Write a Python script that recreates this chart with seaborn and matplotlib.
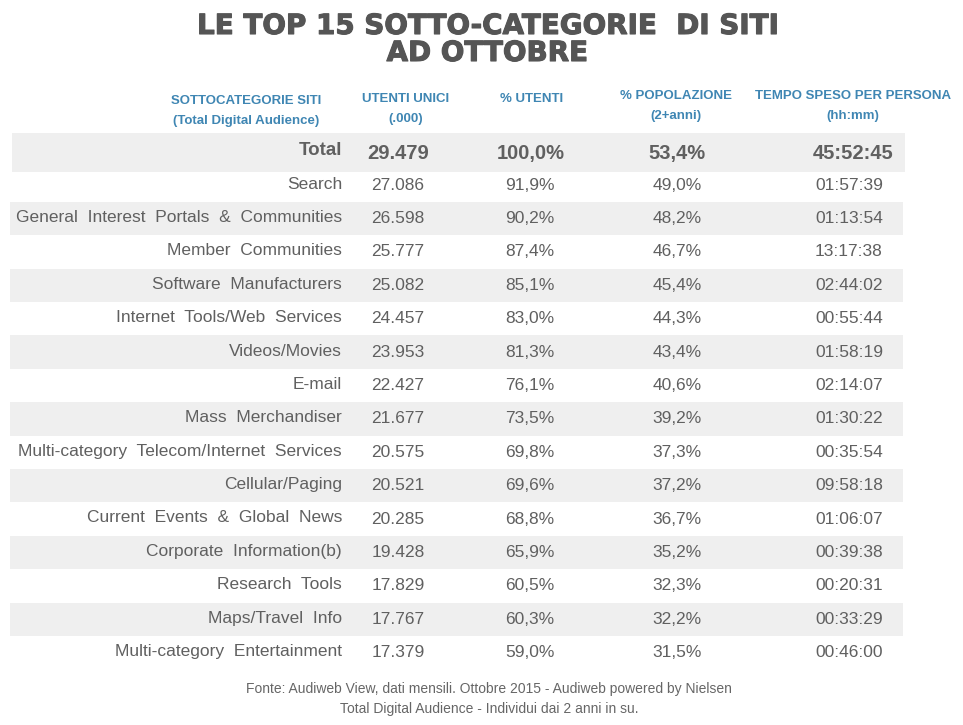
import matplotlib
matplotlib.use("Agg")
import matplotlib.pyplot as plt
import seaborn as sns
import matplotlib.patheffects as pe

sns.set_theme(style="white")
plt.rcParams['font.family'] = ['Liberation Sans', 'DejaVu Sans']

title_lines = ["LE TOP 15 SOTTO-CATEGORIE  DI SITI", "AD OTTOBRE"]
headers = [
    ("SOTTOCATEGORIE SITI", "(Total Digital Audience)"),
    ("UTENTI UNICI", "(.000)"),
    ("% UTENTI", ""),
    ("% POPOLAZIONE", "(2+anni)"),
    ("TEMPO SPESO PER PERSONA", "(hh:mm)"),
]
total_row = ["Total", "29.479", "100,0%", "53,4%", "45:52:45"]
categories = [
    "Search", "General Interest Portals & Communities", "Member Communities",
    "Software Manufacturers", "Internet Tools/Web Services", "Videos/Movies",
    "E-mail", "Mass Merchandiser", "Multi-category Telecom/Internet Services",
    "Cellular/Paging", "Current Events & Global News", "Corporate Information(b)",
    "Research Tools", "Maps/Travel Info", "Multi-category Entertainment",
]
utenti_unici = ["27.086", "26.598", "25.777", "25.082", "24.457", "23.953", "22.427",
                "21.677", "20.575", "20.521", "20.285", "19.428", "17.829", "17.767", "17.379"]
pct_utenti = ["91,9%", "90,2%", "87,4%", "85,1%", "83,0%", "81,3%", "76,1%", "73,5%",
              "69,8%", "69,6%", "68,8%", "65,9%", "60,5%", "60,3%", "59,0%"]
pct_popolazione = ["49,0%", "48,2%", "46,7%", "45,4%", "44,3%", "43,4%", "40,6%", "39,2%",
                   "37,3%", "37,2%", "36,7%", "35,2%", "32,3%", "32,2%", "31,5%"]
tempo_speso = ["01:57:39", "01:13:54", "13:17:38", "02:44:02", "00:55:44", "01:58:19",
               "02:14:07", "01:30:22", "00:35:54", "09:58:18", "01:06:07", "00:39:38",
               "00:20:31", "00:33:29", "00:46:00"]
footer = ["Fonte: Audiweb View, dati mensili. Ottobre 2015 - Audiweb powered by Nielsen",
          "Total Digital Audience - Individui dai 2 anni in su."]

W, H = 963, 725
fig = plt.figure(figsize=(W / 100, H / 100), dpi=100)
ax = fig.add_axes([0, 0, 1, 1])
ax.set_xlim(0, W)
ax.set_ylim(H, 0)
ax.axis("off")

gray_text = "#606060"
blue = "#3f86b3"
band = "#efefef"
narrow = ["Liberation Sans Narrow", "Liberation Sans"]

# title
for i, t in enumerate(title_lines):
    ax.text(487, 26 + i * 27, t, ha="center", va="center", fontsize=20,
            fontweight="bold", color="#555555", family=["DejaVu Sans"],
            path_effects=[pe.withStroke(linewidth=0.8, foreground="#555555")])

# headers
hx = [246, 406, 532, 676, 853]
hy1 = [101, 99, 99, 96, 96]
for x, y, (a, b) in zip(hx, hy1, headers):
    ax.text(x, y, a, ha="center", va="center", fontsize=9.5, fontweight="bold",
            color=blue, family=narrow)
    if b:
        ax.text(x, y + 20, b, ha="center", va="center",
                fontsize=9.5, fontweight="bold", color=blue, family=narrow)

label_x = 342
col_x = [398, 530, 677, 849]
total_x = [398, 531, 677, 853]

# total band
ax.barh([152.5], [893], left=12, height=39, color=band, edgecolor="none")
ax.text(label_x, 150, total_row[0], ha="right", va="center", fontsize=13.5,
        fontweight="bold", color=gray_text)
for x, v in zip(total_x, total_row[1:]):
    ax.text(x, 153, v, ha="center", va="center", fontsize=14.5,
            fontweight="bold", color=gray_text)

# rows
y0, dy = 185, 33.4
ys = [y0 + i * dy for i in range(len(categories))]
stripe_y = [y for i, y in enumerate(ys) if i % 2 == 1]
ax.barh(stripe_y, [893] * len(stripe_y), left=10, height=dy, color=band, edgecolor="none")

for i, y in enumerate(ys):
    ax.text(label_x, y - 1, categories[i].replace(" ", "  "), ha="right", va="center",
            fontsize=12.5, color=gray_text)
    for x, col in zip(col_x, [utenti_unici, pct_utenti, pct_popolazione, tempo_speso]):
        ax.text(x, y, col[i], ha="center", va="center", fontsize=12.5, color=gray_text)

for i, t in enumerate(footer):
    ax.text(489, 689 + i * 20, t, ha="center", va="center", fontsize=10, color="#666666")

fig.savefig("out.png", dpi=100)
